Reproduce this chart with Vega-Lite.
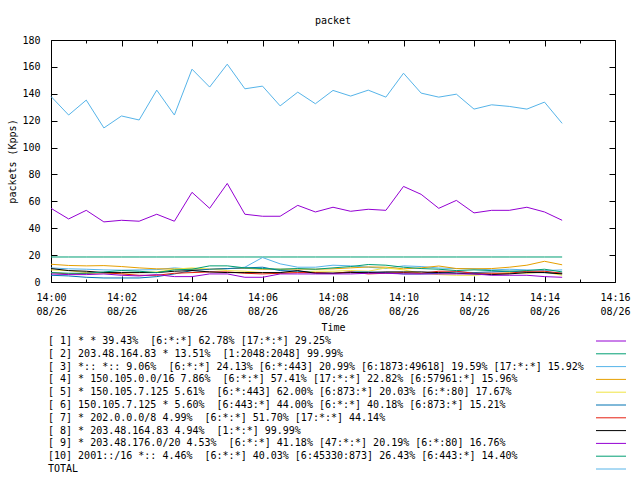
{
"$schema": "https://vega.github.io/schema/vega-lite/v6.json",
"width": 564, "height": 242,
"autosize": {"type": "none"},
"padding": {"left": 51, "top": 40, "right": 25, "bottom": 198},
"background": "white",
"title": {"text": "packet", "font": "DejaVu Sans Mono", "fontSize": 10, "fontWeight": "normal", "color": "black", "offset": 9},
"config": {
 "font": "DejaVu Sans Mono",
 "view": {"stroke": "black", "strokeWidth": 1},
 "axis": {"labelFont": "DejaVu Sans Mono", "labelFontSize": 10, "titleFont": "DejaVu Sans Mono", "titleFontSize": 10, "titleFontWeight": "normal", "grid": false, "domain": false, "ticks": true, "tickColor": "black", "labelColor": "black", "titleColor": "black", "tickWidth": 1}
},
"datasets": {
 "labels": [
  {"k": 1, "label": "[ 1] * * 39.43% \u00a0[6:*:*] 62.78% [17:*:*] 29.25%"},
  {"k": 2, "label": "[ 2] 203.48.164.83 * 13.51% \u00a0[1:2048:2048] 99.99%"},
  {"k": 3, "label": "[ 3] *:: *:: 9.06% \u00a0[6:*:*] 24.13% [6:*:443] 20.99% [6:1873:49618] 19.59% [17:*:*] 15.92%"},
  {"k": 4, "label": "[ 4] * 150.105.0.0/16 7.86% \u00a0[6:*:*] 57.41% [17:*:*] 22.82% [6:57961:*] 15.96%"},
  {"k": 5, "label": "[ 5] * 150.105.7.125 5.61% \u00a0[6:*:443] 62.00% [6:873:*] 20.03% [6:*:80] 17.67%"},
  {"k": 6, "label": "[ 6] 150.105.7.125 * 5.60% \u00a0[6:443:*] 44.00% [6:*:*] 40.18% [6:873:*] 15.21%"},
  {"k": 7, "label": "[ 7] * 202.0.0.0/8 4.99% \u00a0[6:*:*] 51.70% [17:*:*] 44.14%"},
  {"k": 8, "label": "[ 8] * 203.48.164.83 4.94% \u00a0[1:*:*] 99.99%"},
  {"k": 9, "label": "[ 9] * 203.48.176.0/20 4.53% \u00a0[6:*:*] 41.18% [47:*:*] 20.19% [6:*:80] 16.76%"},
  {"k": 10, "label": "[10] 2001::/16 *:: 4.46% \u00a0[6:*:*] 40.03% [6:45330:873] 26.43% [6:443:*] 14.40%"},
  {"k": 11, "label": "TOTAL"}
 ],
 "pts": [
{"t":"2023-08-26T14:00:00","k":1,"v":54.8},{"t":"2023-08-26T14:00:30","k":1,"v":46.9},{"t":"2023-08-26T14:01:00","k":1,"v":53.3},{"t":"2023-08-26T14:01:30","k":1,"v":44.7},{"t":"2023-08-26T14:02:00","k":1,"v":45.9},{"t":"2023-08-26T14:02:30","k":1,"v":45.2},{"t":"2023-08-26T14:03:00","k":1,"v":50.4},{"t":"2023-08-26T14:03:30","k":1,"v":45.2},{"t":"2023-08-26T14:04:00","k":1,"v":66.7},{"t":"2023-08-26T14:04:30","k":1,"v":54.8},{"t":"2023-08-26T14:05:00","k":1,"v":73.3},{"t":"2023-08-26T14:05:30","k":1,"v":50.4},{"t":"2023-08-26T14:06:00","k":1,"v":48.9},{"t":"2023-08-26T14:06:30","k":1,"v":48.9},{"t":"2023-08-26T14:07:00","k":1,"v":57.0},{"t":"2023-08-26T14:07:30","k":1,"v":52.1},{"t":"2023-08-26T14:08:00","k":1,"v":55.6},{"t":"2023-08-26T14:08:30","k":1,"v":52.6},{"t":"2023-08-26T14:09:00","k":1,"v":54.1},{"t":"2023-08-26T14:09:30","k":1,"v":53.3},{"t":"2023-08-26T14:10:00","k":1,"v":71.1},{"t":"2023-08-26T14:10:30","k":1,"v":65.2},{"t":"2023-08-26T14:11:00","k":1,"v":54.8},{"t":"2023-08-26T14:11:30","k":1,"v":60.7},{"t":"2023-08-26T14:12:00","k":1,"v":51.4},{"t":"2023-08-26T14:12:30","k":1,"v":53.3},{"t":"2023-08-26T14:13:00","k":1,"v":53.3},{"t":"2023-08-26T14:13:30","k":1,"v":55.6},{"t":"2023-08-26T14:14:00","k":1,"v":52.1},{"t":"2023-08-26T14:14:30","k":1,"v":45.9},
{"t":"2023-08-26T14:00:00","k":2,"v":18.6},{"t":"2023-08-26T14:00:30","k":2,"v":18.6},{"t":"2023-08-26T14:01:00","k":2,"v":18.6},{"t":"2023-08-26T14:01:30","k":2,"v":18.6},{"t":"2023-08-26T14:02:00","k":2,"v":18.6},{"t":"2023-08-26T14:02:30","k":2,"v":18.6},{"t":"2023-08-26T14:03:00","k":2,"v":18.6},{"t":"2023-08-26T14:03:30","k":2,"v":18.6},{"t":"2023-08-26T14:04:00","k":2,"v":18.6},{"t":"2023-08-26T14:04:30","k":2,"v":18.6},{"t":"2023-08-26T14:05:00","k":2,"v":18.6},{"t":"2023-08-26T14:05:30","k":2,"v":18.6},{"t":"2023-08-26T14:06:00","k":2,"v":18.6},{"t":"2023-08-26T14:06:30","k":2,"v":18.6},{"t":"2023-08-26T14:07:00","k":2,"v":18.6},{"t":"2023-08-26T14:07:30","k":2,"v":18.6},{"t":"2023-08-26T14:08:00","k":2,"v":18.6},{"t":"2023-08-26T14:08:30","k":2,"v":18.6},{"t":"2023-08-26T14:09:00","k":2,"v":18.6},{"t":"2023-08-26T14:09:30","k":2,"v":18.6},{"t":"2023-08-26T14:10:00","k":2,"v":18.6},{"t":"2023-08-26T14:10:30","k":2,"v":18.6},{"t":"2023-08-26T14:11:00","k":2,"v":18.6},{"t":"2023-08-26T14:11:30","k":2,"v":18.6},{"t":"2023-08-26T14:12:00","k":2,"v":18.6},{"t":"2023-08-26T14:12:30","k":2,"v":18.6},{"t":"2023-08-26T14:13:00","k":2,"v":18.6},{"t":"2023-08-26T14:13:30","k":2,"v":18.6},{"t":"2023-08-26T14:14:00","k":2,"v":18.6},{"t":"2023-08-26T14:14:30","k":2,"v":18.6},
{"t":"2023-08-26T14:00:00","k":3,"v":10.5},{"t":"2023-08-26T14:00:30","k":3,"v":9.8},{"t":"2023-08-26T14:01:00","k":3,"v":9.5},{"t":"2023-08-26T14:01:30","k":3,"v":9.0},{"t":"2023-08-26T14:02:00","k":3,"v":8.8},{"t":"2023-08-26T14:02:30","k":3,"v":9.0},{"t":"2023-08-26T14:03:00","k":3,"v":9.2},{"t":"2023-08-26T14:03:30","k":3,"v":10.5},{"t":"2023-08-26T14:04:00","k":3,"v":9.5},{"t":"2023-08-26T14:04:30","k":3,"v":9.3},{"t":"2023-08-26T14:05:00","k":3,"v":9.8},{"t":"2023-08-26T14:05:30","k":3,"v":11.0},{"t":"2023-08-26T14:06:00","k":3,"v":18.2},{"t":"2023-08-26T14:06:30","k":3,"v":13.5},{"t":"2023-08-26T14:07:00","k":3,"v":11.0},{"t":"2023-08-26T14:07:30","k":3,"v":11.0},{"t":"2023-08-26T14:08:00","k":3,"v":12.5},{"t":"2023-08-26T14:08:30","k":3,"v":12.0},{"t":"2023-08-26T14:09:00","k":3,"v":11.0},{"t":"2023-08-26T14:09:30","k":3,"v":10.0},{"t":"2023-08-26T14:10:00","k":3,"v":12.0},{"t":"2023-08-26T14:10:30","k":3,"v":11.5},{"t":"2023-08-26T14:11:00","k":3,"v":10.4},{"t":"2023-08-26T14:11:30","k":3,"v":10.0},{"t":"2023-08-26T14:12:00","k":3,"v":9.8},{"t":"2023-08-26T14:12:30","k":3,"v":9.0},{"t":"2023-08-26T14:13:00","k":3,"v":9.5},{"t":"2023-08-26T14:13:30","k":3,"v":9.0},{"t":"2023-08-26T14:14:00","k":3,"v":8.5},{"t":"2023-08-26T14:14:30","k":3,"v":9.0},
{"t":"2023-08-26T14:00:00","k":4,"v":13.2},{"t":"2023-08-26T14:00:30","k":4,"v":12.3},{"t":"2023-08-26T14:01:00","k":4,"v":12.0},{"t":"2023-08-26T14:01:30","k":4,"v":12.2},{"t":"2023-08-26T14:02:00","k":4,"v":11.5},{"t":"2023-08-26T14:02:30","k":4,"v":10.5},{"t":"2023-08-26T14:03:00","k":4,"v":9.8},{"t":"2023-08-26T14:03:30","k":4,"v":9.7},{"t":"2023-08-26T14:04:00","k":4,"v":9.6},{"t":"2023-08-26T14:04:30","k":4,"v":9.5},{"t":"2023-08-26T14:05:00","k":4,"v":10.0},{"t":"2023-08-26T14:05:30","k":4,"v":10.2},{"t":"2023-08-26T14:06:00","k":4,"v":9.5},{"t":"2023-08-26T14:06:30","k":4,"v":9.5},{"t":"2023-08-26T14:07:00","k":4,"v":9.6},{"t":"2023-08-26T14:07:30","k":4,"v":9.5},{"t":"2023-08-26T14:08:00","k":4,"v":9.8},{"t":"2023-08-26T14:08:30","k":4,"v":10.5},{"t":"2023-08-26T14:09:00","k":4,"v":11.2},{"t":"2023-08-26T14:09:30","k":4,"v":11.0},{"t":"2023-08-26T14:10:00","k":4,"v":9.8},{"t":"2023-08-26T14:10:30","k":4,"v":10.5},{"t":"2023-08-26T14:11:00","k":4,"v":11.9},{"t":"2023-08-26T14:11:30","k":4,"v":10.0},{"t":"2023-08-26T14:12:00","k":4,"v":9.8},{"t":"2023-08-26T14:12:30","k":4,"v":10.0},{"t":"2023-08-26T14:13:00","k":4,"v":11.0},{"t":"2023-08-26T14:13:30","k":4,"v":12.5},{"t":"2023-08-26T14:14:00","k":4,"v":15.4},{"t":"2023-08-26T14:14:30","k":4,"v":12.8},
{"t":"2023-08-26T14:00:00","k":5,"v":9.0},{"t":"2023-08-26T14:00:30","k":5,"v":8.5},{"t":"2023-08-26T14:01:00","k":5,"v":7.0},{"t":"2023-08-26T14:01:30","k":5,"v":6.5},{"t":"2023-08-26T14:02:00","k":5,"v":6.5},{"t":"2023-08-26T14:02:30","k":5,"v":7.0},{"t":"2023-08-26T14:03:00","k":5,"v":7.5},{"t":"2023-08-26T14:03:30","k":5,"v":9.5},{"t":"2023-08-26T14:04:00","k":5,"v":10.5},{"t":"2023-08-26T14:04:30","k":5,"v":9.5},{"t":"2023-08-26T14:05:00","k":5,"v":8.5},{"t":"2023-08-26T14:05:30","k":5,"v":8.0},{"t":"2023-08-26T14:06:00","k":5,"v":7.0},{"t":"2023-08-26T14:06:30","k":5,"v":6.5},{"t":"2023-08-26T14:07:00","k":5,"v":7.5},{"t":"2023-08-26T14:07:30","k":5,"v":8.0},{"t":"2023-08-26T14:08:00","k":5,"v":8.0},{"t":"2023-08-26T14:08:30","k":5,"v":8.5},{"t":"2023-08-26T14:09:00","k":5,"v":8.0},{"t":"2023-08-26T14:09:30","k":5,"v":10.5},{"t":"2023-08-26T14:10:00","k":5,"v":9.0},{"t":"2023-08-26T14:10:30","k":5,"v":6.5},{"t":"2023-08-26T14:11:00","k":5,"v":5.5},{"t":"2023-08-26T14:11:30","k":5,"v":5.0},{"t":"2023-08-26T14:12:00","k":5,"v":5.0},{"t":"2023-08-26T14:12:30","k":5,"v":6.0},{"t":"2023-08-26T14:13:00","k":5,"v":7.0},{"t":"2023-08-26T14:13:30","k":5,"v":6.5},{"t":"2023-08-26T14:14:00","k":5,"v":7.5},{"t":"2023-08-26T14:14:30","k":5,"v":5.0},
{"t":"2023-08-26T14:00:00","k":6,"v":5.0},{"t":"2023-08-26T14:00:30","k":6,"v":4.5},{"t":"2023-08-26T14:01:00","k":6,"v":3.5},{"t":"2023-08-26T14:01:30","k":6,"v":3.0},{"t":"2023-08-26T14:02:00","k":6,"v":3.0},{"t":"2023-08-26T14:02:30","k":6,"v":3.0},{"t":"2023-08-26T14:03:00","k":6,"v":4.0},{"t":"2023-08-26T14:03:30","k":6,"v":6.0},{"t":"2023-08-26T14:04:00","k":6,"v":8.5},{"t":"2023-08-26T14:04:30","k":6,"v":9.5},{"t":"2023-08-26T14:05:00","k":6,"v":10.0},{"t":"2023-08-26T14:05:30","k":6,"v":10.5},{"t":"2023-08-26T14:06:00","k":6,"v":11.0},{"t":"2023-08-26T14:06:30","k":6,"v":8.5},{"t":"2023-08-26T14:07:00","k":6,"v":8.0},{"t":"2023-08-26T14:07:30","k":6,"v":7.0},{"t":"2023-08-26T14:08:00","k":6,"v":6.5},{"t":"2023-08-26T14:08:30","k":6,"v":7.5},{"t":"2023-08-26T14:09:00","k":6,"v":7.5},{"t":"2023-08-26T14:09:30","k":6,"v":7.0},{"t":"2023-08-26T14:10:00","k":6,"v":6.0},{"t":"2023-08-26T14:10:30","k":6,"v":6.0},{"t":"2023-08-26T14:11:00","k":6,"v":6.5},{"t":"2023-08-26T14:11:30","k":6,"v":7.5},{"t":"2023-08-26T14:12:00","k":6,"v":7.0},{"t":"2023-08-26T14:12:30","k":6,"v":7.5},{"t":"2023-08-26T14:13:00","k":6,"v":8.0},{"t":"2023-08-26T14:13:30","k":6,"v":7.5},{"t":"2023-08-26T14:14:00","k":6,"v":7.0},{"t":"2023-08-26T14:14:30","k":6,"v":6.5},
{"t":"2023-08-26T14:00:00","k":7,"v":7.0},{"t":"2023-08-26T14:00:30","k":7,"v":6.0},{"t":"2023-08-26T14:01:00","k":7,"v":6.5},{"t":"2023-08-26T14:01:30","k":7,"v":7.0},{"t":"2023-08-26T14:02:00","k":7,"v":6.0},{"t":"2023-08-26T14:02:30","k":7,"v":5.0},{"t":"2023-08-26T14:03:00","k":7,"v":5.0},{"t":"2023-08-26T14:03:30","k":7,"v":6.5},{"t":"2023-08-26T14:04:00","k":7,"v":7.0},{"t":"2023-08-26T14:04:30","k":7,"v":7.5},{"t":"2023-08-26T14:05:00","k":7,"v":7.5},{"t":"2023-08-26T14:05:30","k":7,"v":6.5},{"t":"2023-08-26T14:06:00","k":7,"v":6.0},{"t":"2023-08-26T14:06:30","k":7,"v":6.5},{"t":"2023-08-26T14:07:00","k":7,"v":7.0},{"t":"2023-08-26T14:07:30","k":7,"v":7.0},{"t":"2023-08-26T14:08:00","k":7,"v":6.5},{"t":"2023-08-26T14:08:30","k":7,"v":7.5},{"t":"2023-08-26T14:09:00","k":7,"v":6.0},{"t":"2023-08-26T14:09:30","k":7,"v":6.5},{"t":"2023-08-26T14:10:00","k":7,"v":7.0},{"t":"2023-08-26T14:10:30","k":7,"v":6.5},{"t":"2023-08-26T14:11:00","k":7,"v":8.0},{"t":"2023-08-26T14:11:30","k":7,"v":8.0},{"t":"2023-08-26T14:12:00","k":7,"v":6.5},{"t":"2023-08-26T14:12:30","k":7,"v":6.5},{"t":"2023-08-26T14:13:00","k":7,"v":6.5},{"t":"2023-08-26T14:13:30","k":7,"v":8.0},{"t":"2023-08-26T14:14:00","k":7,"v":8.0},{"t":"2023-08-26T14:14:30","k":7,"v":6.5},
{"t":"2023-08-26T14:00:00","k":8,"v":10.0},{"t":"2023-08-26T14:00:30","k":8,"v":8.5},{"t":"2023-08-26T14:01:00","k":8,"v":8.0},{"t":"2023-08-26T14:01:30","k":8,"v":7.0},{"t":"2023-08-26T14:02:00","k":8,"v":7.0},{"t":"2023-08-26T14:02:30","k":8,"v":7.0},{"t":"2023-08-26T14:03:00","k":8,"v":7.0},{"t":"2023-08-26T14:03:30","k":8,"v":8.0},{"t":"2023-08-26T14:04:00","k":8,"v":8.5},{"t":"2023-08-26T14:04:30","k":8,"v":7.5},{"t":"2023-08-26T14:05:00","k":8,"v":7.0},{"t":"2023-08-26T14:05:30","k":8,"v":7.0},{"t":"2023-08-26T14:06:00","k":8,"v":7.0},{"t":"2023-08-26T14:06:30","k":8,"v":7.0},{"t":"2023-08-26T14:07:00","k":8,"v":8.5},{"t":"2023-08-26T14:07:30","k":8,"v":6.5},{"t":"2023-08-26T14:08:00","k":8,"v":6.5},{"t":"2023-08-26T14:08:30","k":8,"v":7.0},{"t":"2023-08-26T14:09:00","k":8,"v":7.0},{"t":"2023-08-26T14:09:30","k":8,"v":7.5},{"t":"2023-08-26T14:10:00","k":8,"v":7.5},{"t":"2023-08-26T14:10:30","k":8,"v":7.5},{"t":"2023-08-26T14:11:00","k":8,"v":7.0},{"t":"2023-08-26T14:11:30","k":8,"v":6.5},{"t":"2023-08-26T14:12:00","k":8,"v":6.0},{"t":"2023-08-26T14:12:30","k":8,"v":5.5},{"t":"2023-08-26T14:13:00","k":8,"v":6.0},{"t":"2023-08-26T14:13:30","k":8,"v":7.0},{"t":"2023-08-26T14:14:00","k":8,"v":7.0},{"t":"2023-08-26T14:14:30","k":8,"v":6.0},
{"t":"2023-08-26T14:00:00","k":9,"v":6.0},{"t":"2023-08-26T14:00:30","k":9,"v":5.5},{"t":"2023-08-26T14:01:00","k":9,"v":5.5},{"t":"2023-08-26T14:01:30","k":9,"v":6.0},{"t":"2023-08-26T14:02:00","k":9,"v":5.0},{"t":"2023-08-26T14:02:30","k":9,"v":4.5},{"t":"2023-08-26T14:03:00","k":9,"v":5.5},{"t":"2023-08-26T14:03:30","k":9,"v":4.0},{"t":"2023-08-26T14:04:00","k":9,"v":4.0},{"t":"2023-08-26T14:04:30","k":9,"v":6.0},{"t":"2023-08-26T14:05:00","k":9,"v":6.0},{"t":"2023-08-26T14:05:30","k":9,"v":3.5},{"t":"2023-08-26T14:06:00","k":9,"v":3.5},{"t":"2023-08-26T14:06:30","k":9,"v":6.0},{"t":"2023-08-26T14:07:00","k":9,"v":6.0},{"t":"2023-08-26T14:07:30","k":9,"v":6.0},{"t":"2023-08-26T14:08:00","k":9,"v":6.0},{"t":"2023-08-26T14:08:30","k":9,"v":6.0},{"t":"2023-08-26T14:09:00","k":9,"v":6.5},{"t":"2023-08-26T14:09:30","k":9,"v":6.5},{"t":"2023-08-26T14:10:00","k":9,"v":6.0},{"t":"2023-08-26T14:10:30","k":9,"v":6.0},{"t":"2023-08-26T14:11:00","k":9,"v":6.0},{"t":"2023-08-26T14:11:30","k":9,"v":6.0},{"t":"2023-08-26T14:12:00","k":9,"v":6.0},{"t":"2023-08-26T14:12:30","k":9,"v":5.0},{"t":"2023-08-26T14:13:00","k":9,"v":5.0},{"t":"2023-08-26T14:13:30","k":9,"v":5.0},{"t":"2023-08-26T14:14:00","k":9,"v":4.0},{"t":"2023-08-26T14:14:30","k":9,"v":3.5},
{"t":"2023-08-26T14:00:00","k":10,"v":7.0},{"t":"2023-08-26T14:00:30","k":10,"v":6.5},{"t":"2023-08-26T14:01:00","k":10,"v":6.5},{"t":"2023-08-26T14:01:30","k":10,"v":7.5},{"t":"2023-08-26T14:02:00","k":10,"v":8.5},{"t":"2023-08-26T14:02:30","k":10,"v":8.0},{"t":"2023-08-26T14:03:00","k":10,"v":7.0},{"t":"2023-08-26T14:03:30","k":10,"v":9.0},{"t":"2023-08-26T14:04:00","k":10,"v":9.5},{"t":"2023-08-26T14:04:30","k":10,"v":12.0},{"t":"2023-08-26T14:05:00","k":10,"v":12.0},{"t":"2023-08-26T14:05:30","k":10,"v":10.5},{"t":"2023-08-26T14:06:00","k":10,"v":10.0},{"t":"2023-08-26T14:06:30","k":10,"v":9.5},{"t":"2023-08-26T14:07:00","k":10,"v":10.0},{"t":"2023-08-26T14:07:30","k":10,"v":9.5},{"t":"2023-08-26T14:08:00","k":10,"v":10.5},{"t":"2023-08-26T14:08:30","k":10,"v":11.5},{"t":"2023-08-26T14:09:00","k":10,"v":13.0},{"t":"2023-08-26T14:09:30","k":10,"v":12.5},{"t":"2023-08-26T14:10:00","k":10,"v":11.0},{"t":"2023-08-26T14:10:30","k":10,"v":10.0},{"t":"2023-08-26T14:11:00","k":10,"v":9.5},{"t":"2023-08-26T14:11:30","k":10,"v":8.5},{"t":"2023-08-26T14:12:00","k":10,"v":9.0},{"t":"2023-08-26T14:12:30","k":10,"v":8.5},{"t":"2023-08-26T14:13:00","k":10,"v":8.0},{"t":"2023-08-26T14:13:30","k":10,"v":8.5},{"t":"2023-08-26T14:14:00","k":10,"v":9.5},{"t":"2023-08-26T14:14:30","k":10,"v":7.5},
{"t":"2023-08-26T14:00:00","k":11,"v":138.0},{"t":"2023-08-26T14:00:30","k":11,"v":124.2},{"t":"2023-08-26T14:01:00","k":11,"v":135.3},{"t":"2023-08-26T14:01:30","k":11,"v":114.6},{"t":"2023-08-26T14:02:00","k":11,"v":123.5},{"t":"2023-08-26T14:02:30","k":11,"v":120.5},{"t":"2023-08-26T14:03:00","k":11,"v":142.7},{"t":"2023-08-26T14:03:30","k":11,"v":124.2},{"t":"2023-08-26T14:04:00","k":11,"v":158.3},{"t":"2023-08-26T14:04:30","k":11,"v":145.0},{"t":"2023-08-26T14:05:00","k":11,"v":162.0},{"t":"2023-08-26T14:05:30","k":11,"v":143.7},{"t":"2023-08-26T14:06:00","k":11,"v":145.7},{"t":"2023-08-26T14:06:30","k":11,"v":131.0},{"t":"2023-08-26T14:07:00","k":11,"v":141.2},{"t":"2023-08-26T14:07:30","k":11,"v":132.6},{"t":"2023-08-26T14:08:00","k":11,"v":142.5},{"t":"2023-08-26T14:08:30","k":11,"v":138.3},{"t":"2023-08-26T14:09:00","k":11,"v":142.7},{"t":"2023-08-26T14:09:30","k":11,"v":137.5},{"t":"2023-08-26T14:10:00","k":11,"v":155.3},{"t":"2023-08-26T14:10:30","k":11,"v":140.5},{"t":"2023-08-26T14:11:00","k":11,"v":137.5},{"t":"2023-08-26T14:11:30","k":11,"v":139.7},{"t":"2023-08-26T14:12:00","k":11,"v":128.6},{"t":"2023-08-26T14:12:30","k":11,"v":131.8},{"t":"2023-08-26T14:13:00","k":11,"v":130.6},{"t":"2023-08-26T14:13:30","k":11,"v":128.6},{"t":"2023-08-26T14:14:00","k":11,"v":133.8},{"t":"2023-08-26T14:14:30","k":11,"v":118.0}
 ]
},
"data": {"name": "pts"},
"transform": [{"lookup": "k", "from": {"data": {"name": "labels"}, "key": "k", "fields": ["label"]}}],
"layer": [
 {
  "mark": {"type": "line", "strokeWidth": 1},
  "encoding": {
   "x": {"field": "t", "type": "temporal",
    "scale": {"domain": [{"year": 2023, "month": 8, "date": 26, "hours": 14, "minutes": 0}, {"year": 2023, "month": 8, "date": 26, "hours": 14, "minutes": 16}]},
    "axis": {"orient": "bottom", "title": "Time", "offset": -6, "tickSize": 6, "labelPadding": 10, "titlePadding": 6, "labelLineHeight": 14, "labelFlush": false,
     "values": [{"year": 2023, "month": 8, "date": 26, "hours": 14, "minutes": 0}, {"year": 2023, "month": 8, "date": 26, "hours": 14, "minutes": 2}, {"year": 2023, "month": 8, "date": 26, "hours": 14, "minutes": 4}, {"year": 2023, "month": 8, "date": 26, "hours": 14, "minutes": 6}, {"year": 2023, "month": 8, "date": 26, "hours": 14, "minutes": 8}, {"year": 2023, "month": 8, "date": 26, "hours": 14, "minutes": 10}, {"year": 2023, "month": 8, "date": 26, "hours": 14, "minutes": 12}, {"year": 2023, "month": 8, "date": 26, "hours": 14, "minutes": 14}, {"year": 2023, "month": 8, "date": 26, "hours": 14, "minutes": 16}],
     "labelExpr": "[timeFormat(datum.value, '%H:%M'), timeFormat(datum.value, '%m/%d')]"}},
   "y": {"field": "v", "type": "quantitative", "scale": {"domain": [0, 180]},
    "axis": {"orient": "left", "title": "packets (Kpps)", "offset": -6, "tickSize": 6, "labelPadding": 11, "titlePadding": 4, "values": [0, 20, 40, 60, 80, 100, 120, 140, 160, 180]}},
   "color": {"field": "label", "type": "nominal",
    "scale": {"domain": [
     "[ 1] * * 39.43% \u00a0[6:*:*] 62.78% [17:*:*] 29.25%",
     "[ 2] 203.48.164.83 * 13.51% \u00a0[1:2048:2048] 99.99%",
     "[ 3] *:: *:: 9.06% \u00a0[6:*:*] 24.13% [6:*:443] 20.99% [6:1873:49618] 19.59% [17:*:*] 15.92%",
     "[ 4] * 150.105.0.0/16 7.86% \u00a0[6:*:*] 57.41% [17:*:*] 22.82% [6:57961:*] 15.96%",
     "[ 5] * 150.105.7.125 5.61% \u00a0[6:*:443] 62.00% [6:873:*] 20.03% [6:*:80] 17.67%",
     "[ 6] 150.105.7.125 * 5.60% \u00a0[6:443:*] 44.00% [6:*:*] 40.18% [6:873:*] 15.21%",
     "[ 7] * 202.0.0.0/8 4.99% \u00a0[6:*:*] 51.70% [17:*:*] 44.14%",
     "[ 8] * 203.48.164.83 4.94% \u00a0[1:*:*] 99.99%",
     "[ 9] * 203.48.176.0/20 4.53% \u00a0[6:*:*] 41.18% [47:*:*] 20.19% [6:*:80] 16.76%",
     "[10] 2001::/16 *:: 4.46% \u00a0[6:*:*] 40.03% [6:45330:873] 26.43% [6:443:*] 14.40%",
     "TOTAL"],
     "range": ["#9400d3", "#009e73", "#56b4e9", "#e69f00", "#f0e442", "#0072b2", "#e51e10", "#000000", "#9400d3", "#009e73", "#56b4e9"]},
    "legend": {"orient": "none", "legendX": -13, "legendY": 296, "title": null, "symbolType": "M 553 0 H 583", "symbolSize": 4, "symbolStrokeWidth": 1, "labelFont": "DejaVu Sans Mono", "labelFontSize": 10, "labelColor": "black", "labelLimit": 1000, "rowPadding": 2.8, "padding": 0, "labelOffset": 0}}
  }
 },
 {
  "mark": {"type": "point", "opacity": 0, "size": 1},
  "encoding": {
   "x": {"field": "t", "type": "temporal",
    "axis": {"orient": "top", "title": null, "labels": false, "offset": -6, "tickSize": 6,
     "values": [{"year": 2023, "month": 8, "date": 26, "hours": 14, "minutes": 0}, {"year": 2023, "month": 8, "date": 26, "hours": 14, "minutes": 2}, {"year": 2023, "month": 8, "date": 26, "hours": 14, "minutes": 4}, {"year": 2023, "month": 8, "date": 26, "hours": 14, "minutes": 6}, {"year": 2023, "month": 8, "date": 26, "hours": 14, "minutes": 8}, {"year": 2023, "month": 8, "date": 26, "hours": 14, "minutes": 10}, {"year": 2023, "month": 8, "date": 26, "hours": 14, "minutes": 12}, {"year": 2023, "month": 8, "date": 26, "hours": 14, "minutes": 14}, {"year": 2023, "month": 8, "date": 26, "hours": 14, "minutes": 16}]}},
   "y": {"field": "v", "type": "quantitative",
    "axis": {"orient": "right", "title": null, "labels": false, "offset": -6, "tickSize": 6, "values": [0, 20, 40, 60, 80, 100, 120, 140, 160, 180]}}
  }
 },
 {
  "mark": {"type": "point", "opacity": 0, "size": 1},
  "encoding": {
   "x": {"field": "t", "type": "temporal",
    "axis": {"orient": "bottom", "title": null, "labels": false, "offset": -3, "tickSize": 3,
     "values": [{"year": 2023, "month": 8, "date": 26, "hours": 14, "minutes": 1}, {"year": 2023, "month": 8, "date": 26, "hours": 14, "minutes": 3}, {"year": 2023, "month": 8, "date": 26, "hours": 14, "minutes": 5}, {"year": 2023, "month": 8, "date": 26, "hours": 14, "minutes": 7}, {"year": 2023, "month": 8, "date": 26, "hours": 14, "minutes": 9}, {"year": 2023, "month": 8, "date": 26, "hours": 14, "minutes": 11}, {"year": 2023, "month": 8, "date": 26, "hours": 14, "minutes": 13}, {"year": 2023, "month": 8, "date": 26, "hours": 14, "minutes": 15}]}},
   "y": {"field": "v", "type": "quantitative", "axis": null}
  }
 },
 {
  "mark": {"type": "point", "opacity": 0, "size": 1},
  "encoding": {
   "x": {"field": "t", "type": "temporal",
    "axis": {"orient": "top", "title": null, "labels": false, "offset": -3, "tickSize": 3,
     "values": [{"year": 2023, "month": 8, "date": 26, "hours": 14, "minutes": 1}, {"year": 2023, "month": 8, "date": 26, "hours": 14, "minutes": 3}, {"year": 2023, "month": 8, "date": 26, "hours": 14, "minutes": 5}, {"year": 2023, "month": 8, "date": 26, "hours": 14, "minutes": 7}, {"year": 2023, "month": 8, "date": 26, "hours": 14, "minutes": 9}, {"year": 2023, "month": 8, "date": 26, "hours": 14, "minutes": 11}, {"year": 2023, "month": 8, "date": 26, "hours": 14, "minutes": 13}, {"year": 2023, "month": 8, "date": 26, "hours": 14, "minutes": 15}]}},
   "y": {"field": "v", "type": "quantitative", "axis": null}
  }
 }
],
"resolve": {"axis": {"x": "independent", "y": "independent"}}
}
